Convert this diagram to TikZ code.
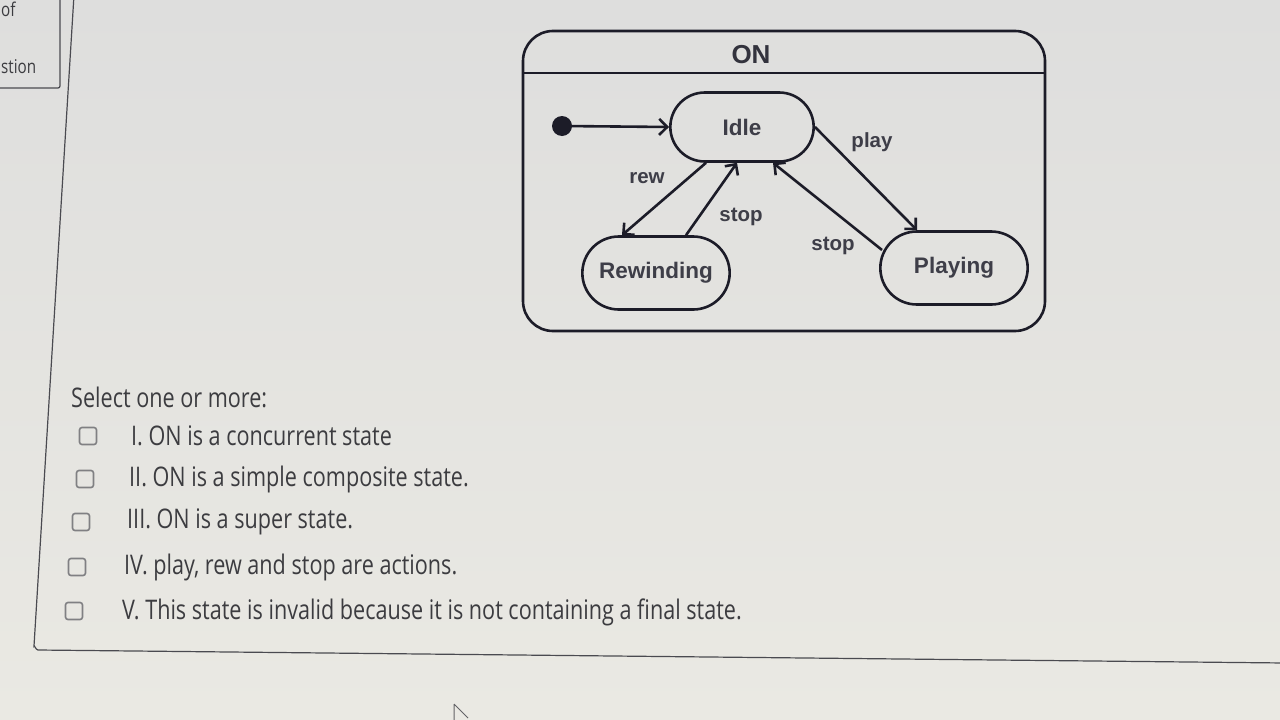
\documentclass[tikz,border=0pt]{standalone}
\usepackage{fontspec}
\setmainfont{Liberation Sans}
\newfontfamily\quizfont[FakeStretch=0.8]{Open Sans}
\usetikzlibrary{arrows.meta,shapes.misc,calc}
\definecolor{bgc}{HTML}{DEDEDD}
\definecolor{bgl}{HTML}{EAE9E3}
\definecolor{ink}{HTML}{1C1C28}
\definecolor{qtext}{HTML}{3C3C40}
\definecolor{frame}{HTML}{4A4A50}
\tikzset{
  statebox/.style={draw=ink, line width=2.6pt, rounded rectangle, minimum height=69pt,
    font=\fontsize{22.5}{26}\selectfont\bfseries, text=ink!85},
  trans/.style={draw=ink, line width=2.6pt, -{Straight Barb[length=8pt,width=16pt]}},
  tlabel/.style={font=\fontsize{20.5}{24}\selectfont\bfseries, text=ink!85, inner sep=0pt},
  qline/.style={anchor=west, font=\quizfont\fontsize{27}{30}\selectfont, text=qtext, inner sep=0pt},
  cbox/.style={draw=qtext!65, line width=1.6pt, rounded corners=2.5pt, minimum size=17pt, inner sep=0pt},
  framel/.style={draw=frame, line width=1.2pt}
}
\begin{document}
\begin{tikzpicture}[x=1pt,y=-1pt]
\useasboundingbox (0,0) rectangle (1280,720);
\shade[top color=bgc, bottom color=bgl] (0,0) rectangle (1280,720);
% left panel
\draw[framel] (-10,88) -- (58,88) to[out=0,in=-90] (60,86) -- (60,-10);
\node[anchor=west, font=\quizfont\fontsize{19}{22}\selectfont, text=qtext, inner sep=0pt] (of) at (1,9) {of};
\node[anchor=west, font=\quizfont\fontsize{19}{22}\selectfont, text=qtext, inner sep=0pt] (stion) at (1,67) {stion};
% main content frame
\draw[framel] (74,-5) -- (34,646) to[out=95,in=180] (38,650) -- (1285,663);
% ON composite state
\draw[ink, line width=2.6pt, rounded corners=30pt] (523,31) rectangle (1045,331);
\draw[ink, line width=2.6pt] (523,73) -- (1045,73);
\node[font=\fontsize{26}{30}\selectfont\bfseries, text=ink!90] (on) at (751,55) {ON};
% states
\fill[ink] (562,126) circle (10pt);
\coordinate (init) at (562,126);
\node[statebox, minimum width=150pt] (idle) at (742,127) {Idle};
\node[statebox, minimum width=154pt, minimum height=73pt] (rew) at (656,273) {Rewinding};
\node[statebox, minimum width=154pt, minimum height=73pt] (play) at (954,268) {Playing};
% transitions
\draw[trans] (init) -- (idle.west);
\draw[trans] ([xshift=-36pt]idle.south) -- ([xshift=-34pt]rew.north);
\draw[trans] ([xshift=30pt]rew.north) -- ([xshift=-5pt]idle.south);
\draw[trans] (idle.east) -- ([xshift=-37pt]play.north);
\draw[trans] ($(play.west)+(3,-18)$) -- ([xshift=31pt]idle.south);
\node[tlabel] (lrew) at (647,178) {rew};
\node[tlabel] (lstop1) at (741,217) {stop};
\node[tlabel] (lplay) at (872,142) {play};
\node[tlabel] (lstop2) at (833,246) {stop};
% quiz
\node[qline] (sel) at (71,397) {Select one or more:};
\node[cbox] (c1) at (88,436) {};
\node[cbox] (c2) at (85,479) {};
\node[cbox] (c3) at (81,522) {};
\node[cbox] (c4) at (77,567) {};
\node[cbox] (c5) at (74,611) {};
\node[qline] (q1) at (131,436) {I. ON is a concurrent state};
\node[qline] (q2) at (129,479) {II. ON is a simple composite state.};
\node[qline] (q3) at (127,522) {III. ON is a super state.};
\node[qline] (q4) at (124,567) {IV. play, rew and stop are actions.};
\node[qline] (q5) at (122,612) {V. This state is invalid because it is not containing a final state.};
% cursor
\draw[qtext!80, line width=1pt] (454,704) -- (454,722) (454,704) -- (468,718);
\end{tikzpicture}
\end{document}
